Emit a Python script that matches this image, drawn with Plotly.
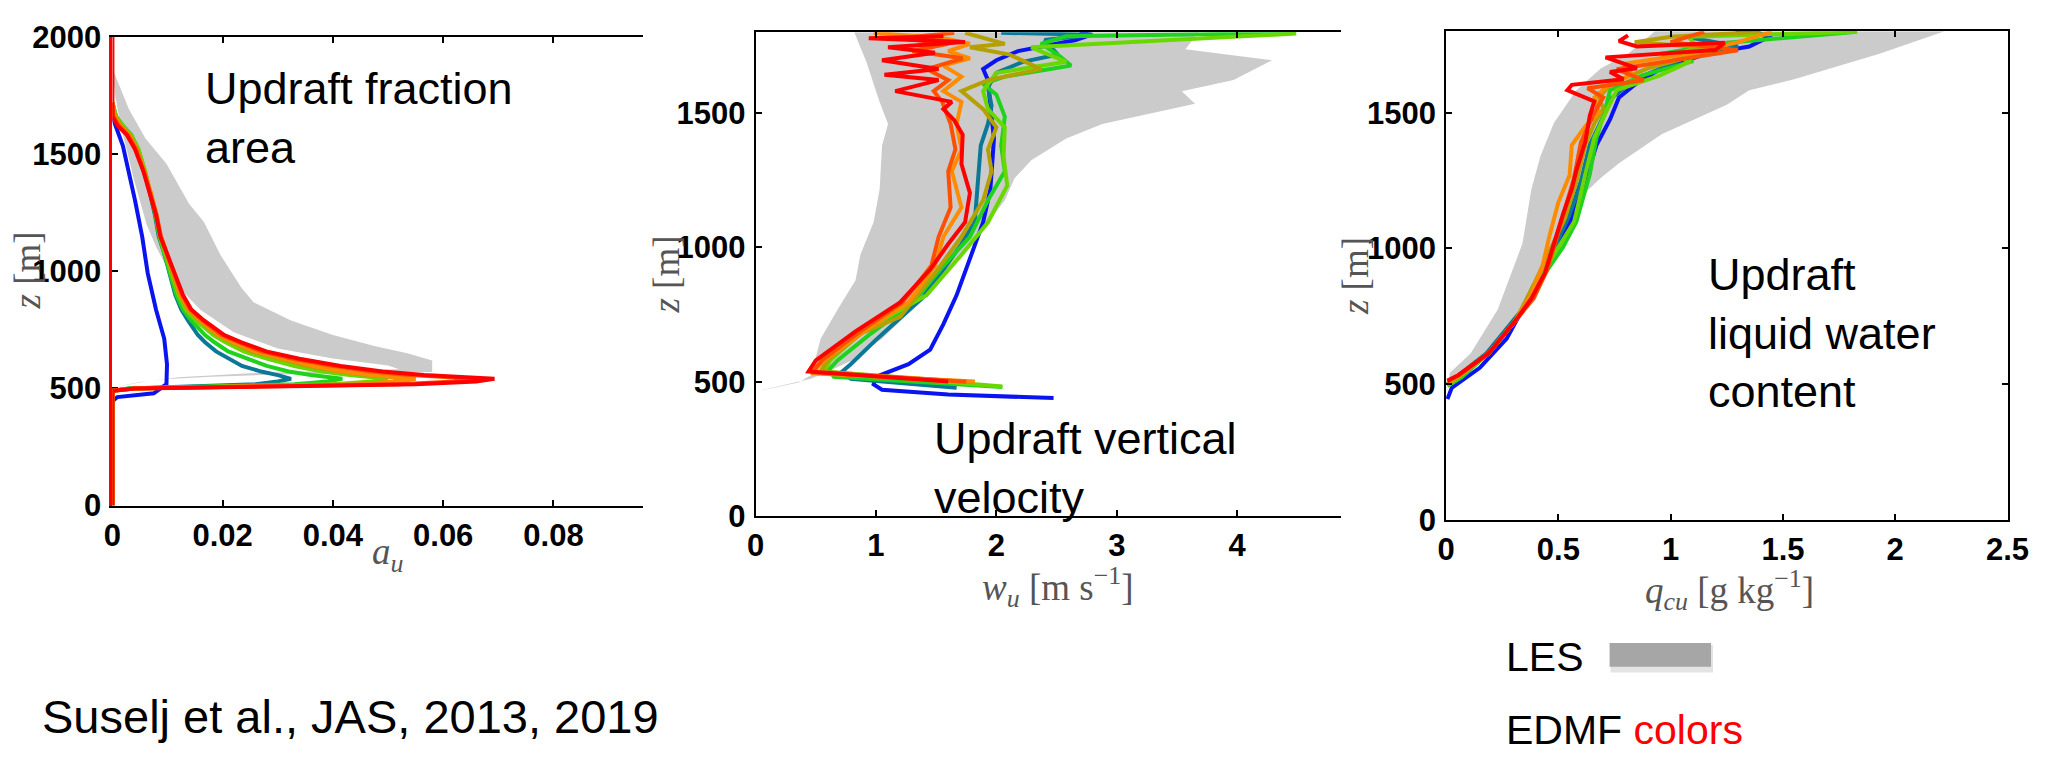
import plotly.graph_objects as go

# ---------------- DATA ----------------
# Panel 1: updraft area fraction a_u vs z
LES1_A = [0.0, 0.003, 0.006, 0.0098, 0.0128, 0.0139, 0.0166, 0.0196, 0.0234, 0.0256, 0.0324, 0.040, 0.0475, 0.0535, 0.058, 0.058,
          0.045, 0.03, 0.018, 0.01, 0.005, 0.002, 0.0,
          0.002, 0.006, 0.012, 0.025, 0.04, 0.052,
          0.05, 0.04, 0.03, 0.022, 0.016, 0.0125, 0.0105, 0.008, 0.0062, 0.005, 0.0038, 0.0028, 0.0015, 0.0005, 0.0]
LES1_Z = [1866, 1692, 1567, 1459, 1334, 1288, 1210, 1070, 930, 868, 790, 728, 681, 650, 619, 570,
          565, 559, 550, 540, 527, 514, 500,
          512, 530, 548, 565, 573, 582,
          598, 628, 670, 740, 835, 920, 990, 1100, 1200, 1300, 1400, 1500, 1620, 1750, 1866]

Z1_LO = [0, 490, 500, 505, 510, 518, 530]
Z1_UP = [541, 557, 572, 596, 627, 658, 697, 728, 790, 837, 899, 992, 1085, 1148, 1241, 1334, 1428, 1521, 1583, 1622, 1661, 1720]

A1_TEAL_LO = [0, 0, 0.003, 0.010, 0.018, 0.026, 0.030]
A1_TEAL_UP = [0.0324, 0.030, 0.027, 0.0235, 0.021, 0.0188, 0.0168, 0.0155, 0.0137, 0.0125, 0.0114, 0.0104, 0.0093, 0.0084, 0.0077, 0.0068, 0.0058, 0.0046, 0.0033, 0.0018, 0.0006, 0.0]
A1_GREEN_LO = [0, 0, 0.003, 0.011, 0.022, 0.033, 0.039]
A1_GREEN_UP = [0.0417, 0.036, 0.032, 0.028, 0.0243, 0.021, 0.0185, 0.0168, 0.0143, 0.0128, 0.0116, 0.0105, 0.0094, 0.0085, 0.0078, 0.0069, 0.0059, 0.0047, 0.0034, 0.0019, 0.0007, 0.0]
A1_LIME_LO = [0, 0, 0.004, 0.013, 0.027, 0.040, 0.047]
A1_LIME_UP = [0.050, 0.043, 0.038, 0.033, 0.028, 0.0238, 0.0205, 0.0183, 0.0152, 0.0133, 0.0120, 0.0107, 0.0095, 0.0086, 0.0079, 0.0069, 0.0059, 0.0047, 0.0033, 0.0018, 0.0006, 0.0]
A1_OLIVE_LO = [0, 0, 0.004, 0.014, 0.029, 0.044, 0.051]
A1_OLIVE_UP = [0.054, 0.046, 0.041, 0.0355, 0.030, 0.0252, 0.0215, 0.019, 0.0157, 0.0137, 0.0122, 0.0109, 0.0096, 0.0087, 0.0079, 0.0069, 0.0058, 0.0045, 0.0031, 0.0016, 0.0005, 0.0]
A1_ORANGE_LO = [0, 0, 0.004, 0.014, 0.030, 0.045, 0.052]
A1_ORANGE_UP = [0.055, 0.047, 0.042, 0.0365, 0.031, 0.026, 0.022, 0.0193, 0.016, 0.0139, 0.0124, 0.011, 0.0097, 0.0088, 0.008, 0.007, 0.0058, 0.0044, 0.003, 0.0014, 0.0004, 0.0]
A1_ORED_LO = [0, 0, 0.004, 0.015, 0.033, 0.052, 0.062]
A1_ORED_UP = [0.066, 0.054, 0.047, 0.040, 0.0328, 0.027, 0.0228, 0.0198, 0.0163, 0.0141, 0.0126, 0.0112, 0.0097, 0.0088, 0.0080, 0.0069, 0.0057, 0.0043, 0.0028, 0.0012, 0.0002, 0.0]
A1_RED_LO = [0, 0, 0.004, 0.015, 0.035, 0.055, 0.066]
A1_RED_UP = [0.0693, 0.0565, 0.049, 0.0414, 0.0339, 0.0279, 0.0234, 0.0203, 0.0166, 0.0143, 0.0128, 0.0113, 0.0098, 0.0087, 0.0079, 0.0068, 0.0056, 0.0041, 0.0026, 0.0009, 0.0, 0.0]
A1_RED_TOP = [0.0, 0.0]
Z1_RED_TOP = [1720, 2000]

A1_BLUE = [0, 0, 0.0009, 0.0075, 0.0098, 0.0099, 0.0094, 0.0079, 0.0064, 0.0054, 0.0041, 0.0026, 0.0019, 0.0002, 0]
Z1_BLUE = [0, 445, 463, 479, 518, 603, 712, 837, 992, 1148, 1303, 1459, 1536, 1645, 1660]

# Panel 2: updraft vertical velocity w_u vs z
LES2_W = [0.0, 0.355, 0.46, 0.54, 0.68, 0.83, 0.87, 0.98, 1.03, 1.05, 1.10, 1.03, 0.98, 0.92, 0.87, 0.82,
          3.68, 3.57, 4.29, 3.97, 3.54, 3.65, 2.88, 2.58, 2.29, 2.15, 2.07, 1.93, 1.75, 1.5, 1.3, 1.05, 0.8, 0.57, 0.46, 0.0]
LES2_Z = [463, 497, 524, 660, 768, 877, 972, 1093, 1215, 1378, 1459, 1541, 1608, 1690, 1744, 1800,
          1800, 1737, 1696, 1622, 1581, 1534, 1459, 1405, 1324, 1256, 1175, 1093, 985, 877, 768, 660, 579, 531, 511, 463]

W2_BLUE = [2.475, 1.6, 1.05, 0.98, 1.0, 1.27, 1.45, 1.56, 1.67, 1.76, 1.82, 1.89, 1.95, 1.98, 1.95, 1.93, 1.89, 2.0, 2.18, 2.66, 2.79, 2.69]
Z2_BLUE = [439, 452, 470, 490, 518, 565, 619, 714, 822, 931, 1012, 1093, 1215, 1405, 1527, 1622, 1663, 1696, 1730, 1771, 1791, 1798]
W2_TEAL = [1.67, 0.79, 0.72, 0.79, 1.01, 1.38, 1.56, 1.71, 1.82, 1.85, 1.87, 1.93, 1.96, 1.93, 2.0, 2.22, 2.51, 2.40, 2.8, 2.04]
Z2_TEAL = [477, 511, 538, 565, 660, 809, 917, 1012, 1093, 1242, 1378, 1459, 1527, 1595, 1649, 1690, 1717, 1771, 1791, 1798]
W2_GREEN = [2.05, 0.65, 0.61, 0.68, 0.94, 1.31, 1.56, 1.78, 1.93, 2.07, 2.04, 2.07, 2.0, 1.89, 2.07, 2.62, 2.51, 2.37, 2.58, 4.49]
Z2_GREEN = [480, 518, 545, 579, 673, 795, 931, 1039, 1175, 1283, 1378, 1486, 1568, 1608, 1635, 1676, 1717, 1757, 1785, 1798]
W2_LIME = [2.05, 0.57, 0.62, 0.9, 1.42, 1.71, 1.93, 2.09, 2.06, 2.07, 1.93, 1.89, 2.0, 2.58, 2.29, 4.49]
Z2_LIME = [482, 538, 580, 690, 822, 972, 1093, 1229, 1337, 1446, 1514, 1581, 1649, 1690, 1744, 1795]
W2_OLIVE = [1.82, 0.54, 0.6, 0.88, 1.2, 1.49, 1.71, 1.89, 1.96, 1.93, 2.0, 1.89, 1.71, 1.93, 2.37, 2.11, 1.78, 2.07, 1.74]
Z2_OLIVE = [497, 538, 580, 680, 741, 904, 1039, 1175, 1283, 1364, 1446, 1514, 1581, 1622, 1663, 1717, 1744, 1757, 1798]
W2_ORANGE = [1.82, 0.46, 0.57, 0.9, 1.27, 1.49, 1.56, 1.71, 1.63, 1.71, 1.67, 1.71, 1.56, 1.71, 1.56, 1.78, 1.6, 1.78, 1.56, 0.98]
Z2_ORANGE = [501, 531, 579, 687, 795, 931, 1039, 1148, 1283, 1364, 1459, 1541, 1581, 1635, 1676, 1703, 1730, 1757, 1778, 1798]
W2_ORED = [1.75, 0.47, 0.55, 0.87, 1.22, 1.46, 1.52, 1.62, 1.6, 1.66, 1.62, 1.55, 1.48, 1.6, 1.42, 1.72, 1.3, 1.6, 1.2, 1.65]
Z2_ORED = [500, 535, 579, 687, 795, 931, 1039, 1148, 1283, 1364, 1459, 1541, 1581, 1622, 1663, 1703, 1730, 1757, 1778, 1798]
W2_RED = [1.6, 0.44, 0.5, 0.83, 1.2, 1.45, 1.6, 1.74, 1.78, 1.71, 1.72, 1.65, 1.56, 1.63, 1.16, 1.52, 1.07, 1.52, 1.05, 1.49, 1.1, 1.74, 0.94, 1.56]
Z2_RED = [501, 538, 579, 687, 795, 917, 1012, 1093, 1202, 1310, 1419, 1473, 1514, 1541, 1581, 1622, 1642, 1663, 1696, 1724, 1744, 1764, 1778, 1785]

# Panel 3: updraft liquid water q_cu vs z
LES3_Q = [0.015, 0.11, 0.23, 0.34, 0.38, 0.42, 0.48, 0.58, 0.69, 0.81, 0.93,
          2.22, 1.93, 1.55, 1.35, 1.25, 0.96, 0.77, 0.69, 0.62, 0.54, 0.46, 0.36, 0.25, 0.13, 0.015]
LES3_Z = [540, 614, 775, 1018, 1219, 1340, 1462, 1583, 1664, 1717, 1800,
          1800, 1717, 1623, 1583, 1529, 1421, 1314, 1260, 1206, 1098, 937, 802, 668, 587, 520]

Q3_BLUE = [0.006, 0.025, 0.15, 0.27, 0.34, 0.42, 0.5, 0.56, 0.62, 0.67, 0.73, 0.77, 0.85, 0.96, 1.16, 1.35, 1.45, 1.29]
Z3_BLUE = [445, 486, 560, 668, 775, 883, 1004, 1112, 1246, 1381, 1475, 1556, 1610, 1664, 1717, 1744, 1785, 1798]
Q3_TEAL = [0.006, 0.05, 0.18, 0.3, 0.38, 0.44, 0.49, 0.55, 0.6, 0.64, 0.7, 0.74, 0.84, 1.0, 1.06, 1.3, 1.08, 1.4]
Z3_TEAL = [500, 530, 614, 735, 816, 910, 1017, 1125, 1246, 1381, 1489, 1556, 1623, 1677, 1704, 1744, 1778, 1798]
Q3_GREEN = [0.006, 0.07, 0.19, 0.31, 0.42, 0.52, 0.58, 0.64, 0.67, 0.71, 0.73, 0.87, 1.1, 0.96, 1.25, 1.83]
Z3_GREEN = [493, 526, 614, 735, 883, 1004, 1098, 1273, 1408, 1516, 1583, 1637, 1690, 1717, 1758, 1798]
Q3_LIME = [0.006, 0.06, 0.19, 0.31, 0.41, 0.5, 0.57, 0.62, 0.66, 0.72, 0.76, 0.95, 1.09, 1.0, 1.12, 1.08, 1.83]
Z3_LIME = [495, 528, 614, 735, 883, 1004, 1098, 1273, 1408, 1516, 1583, 1637, 1690, 1710, 1740, 1780, 1798]
Q3_OLIVE = [0.006, 0.06, 0.19, 0.31, 0.4, 0.47, 0.53, 0.58, 0.62, 0.66, 0.7, 0.68, 0.74, 0.9, 1.22, 0.84, 1.0, 1.4]
Z3_OLIVE = [500, 530, 614, 735, 883, 1004, 1112, 1246, 1381, 1460, 1516, 1556, 1610, 1664, 1737, 1760, 1780, 1798]
Q3_ORANGE = [0.006, 0.06, 0.19, 0.31, 0.38, 0.43, 0.46, 0.5, 0.55, 0.56, 0.62, 0.68, 0.66, 0.72, 0.83, 0.79, 1.1, 1.3, 1.45]
Z3_ORANGE = [505, 532, 614, 735, 830, 937, 1045, 1170, 1270, 1381, 1450, 1500, 1556, 1600, 1640, 1680, 1720, 1760, 1798]
Q3_ORED = [0.006, 0.055, 0.19, 0.31, 0.39, 0.45, 0.49, 0.53, 0.57, 0.6, 0.66, 0.7, 0.63, 0.88, 0.76, 1.3, 1.0, 1.15]
Z3_ORED = [510, 533, 614, 735, 816, 920, 1030, 1140, 1260, 1390, 1500, 1556, 1590, 1620, 1660, 1730, 1760, 1798]
Q3_RED = [0.006, 0.054, 0.19, 0.31, 0.38, 0.44, 0.48, 0.52, 0.56, 0.58, 0.62, 0.64, 0.66, 0.54, 0.56, 0.79, 0.73, 0.85, 0.71, 1.2, 1.24, 0.85, 0.77, 0.81]
Z3_RED = [513, 533, 614, 735, 816, 910, 1017, 1125, 1219, 1287, 1394, 1489, 1542, 1583, 1603, 1623, 1650, 1664, 1704, 1731, 1758, 1744, 1764, 1785]

# tick labels
X1_TICKS = [0, 0.02, 0.04, 0.06, 0.08]
X1_LABELS = ["0", "0.02", "0.04", "0.06", "0.08"]
Y1_TICKS = [0, 500, 1000, 1500, 2000]
X2_TICKS = [0, 1, 2, 3, 4]
Y23_TICKS = [0, 500, 1000, 1500]
X3_TICKS = [0, 0.5, 1, 1.5, 2, 2.5]
X3_LABELS = ["0", "0.5", "1", "1.5", "2", "2.5"]

# ---------------- STYLE ----------------
W, H = 2063, 764
GRAY = "#cbcbcb"
C = {"blue": "#0a14f0", "teal": "#0a7896", "green": "#1ed21e", "lime": "#6ad800",
     "olive": "#b4a000", "orange": "#ff8c00", "ored": "#ff5000", "red": "#ff0000"}


def fx(p):
    return p / W


def fy(p):
    return 1 - p / H


fig = go.Figure()


def line(x, y, color, ax, width=4):
    fig.add_trace(go.Scatter(x=x, y=y, mode="lines", line=dict(color=color, width=width),
                             xaxis="x" + ax, yaxis="y" + ax, hoverinfo="skip"))


def band(x, y, ax):
    fig.add_trace(go.Scatter(x=x, y=y, mode="lines", fill="toself", fillcolor=GRAY,
                             line=dict(width=0, color=GRAY), xaxis="x" + ax, yaxis="y" + ax,
                             hoverinfo="skip"))


# panel 1
band(LES1_A, LES1_Z, "")
line(A1_BLUE, Z1_BLUE, C["blue"], "")
for lo, up, col in [(A1_TEAL_LO, A1_TEAL_UP, "teal"), (A1_GREEN_LO, A1_GREEN_UP, "green"),
                    (A1_LIME_LO, A1_LIME_UP, "lime"), (A1_OLIVE_LO, A1_OLIVE_UP, "olive"),
                    (A1_ORANGE_LO, A1_ORANGE_UP, "orange"), (A1_ORED_LO, A1_ORED_UP, "ored"),
                    (A1_RED_LO, A1_RED_UP, "red")]:
    line(lo + up, Z1_LO + Z1_UP, C[col], "")
line(A1_RED_TOP, Z1_RED_TOP, C["red"], "")

# panel 2
band(LES2_W, LES2_Z, "2")
for xs, zs, col in [(W2_BLUE, Z2_BLUE, "blue"), (W2_TEAL, Z2_TEAL, "teal"), (W2_GREEN, Z2_GREEN, "green"),
                    (W2_LIME, Z2_LIME, "lime"), (W2_OLIVE, Z2_OLIVE, "olive"), (W2_ORANGE, Z2_ORANGE, "orange"),
                    (W2_ORED, Z2_ORED, "ored"), (W2_RED, Z2_RED, "red")]:
    line(xs, zs, C[col], "2")

# panel 3
band(LES3_Q, LES3_Z, "3")
for xs, zs, col in [(Q3_BLUE, Z3_BLUE, "blue"), (Q3_TEAL, Z3_TEAL, "teal"), (Q3_GREEN, Z3_GREEN, "green"),
                    (Q3_LIME, Z3_LIME, "lime"), (Q3_OLIVE, Z3_OLIVE, "olive"), (Q3_ORANGE, Z3_ORANGE, "orange"),
                    (Q3_ORED, Z3_ORED, "ored"), (Q3_RED, Z3_RED, "red")]:
    line(xs, zs, C[col], "3")

TICKFONT = dict(family="Liberation Sans, Arial", size=31, color="black", weight="bold")
base = dict(showline=True, linecolor="black", linewidth=2, ticks="inside", ticklen=6, tickwidth=1.5,
            tickcolor="black", showgrid=False, zeroline=False, tickfont=TICKFONT, fixedrange=True)

fig.update_layout(
    width=W, height=H, margin=dict(l=0, r=0, t=0, b=0), showlegend=False,
    paper_bgcolor="white", plot_bgcolor="white",
    xaxis=dict(base, domain=[fx(105), fx(644)], range=[0, 0.0963], tickvals=X1_TICKS, ticktext=X1_LABELS,
               mirror="ticks", anchor="y", ticklabelstandoff=1),
    yaxis=dict(base, domain=[fy(512), fy(21)], range=[0, 2000], tickvals=Y1_TICKS, anchor="x",
               linecolor="#ff0000", linewidth=3, layer="below traces", ticklabelstandoff=2),
    xaxis2=dict(base, domain=[fx(758), fx(1352)], range=[0, 4.86], tickvals=X2_TICKS,
                mirror="ticks", anchor="y2", ticklabelstandoff=1),
    yaxis2=dict(base, domain=[fy(523), fy(16)], range=[0, 1800], tickvals=Y23_TICKS, anchor="x2",
                ticklabelstandoff=2),
    xaxis3=dict(base, domain=[fx(1459), fx(2029)], range=[0, 2.5], tickvals=X3_TICKS, ticktext=X3_LABELS,
                mirror="ticks", anchor="y3", ticklabelstandoff=1),
    yaxis3=dict(base, domain=[fy(527), fy(15)], range=[0, 1800], tickvals=Y23_TICKS, anchor="x3",
                mirror="ticks", ticklabelstandoff=2),
)

MATH = dict(family="Liberation Serif, DejaVu Serif, serif", size=37, color="#555555")
TXT = dict(family="Liberation Sans, Arial", size=45, color="black")


def ann(text, x, y, font, xanchor="left", yanchor="middle", angle=0):
    fig.add_annotation(text=text, x=fx(x), y=fy(y), xref="paper", yref="paper", showarrow=False,
                       font=font, xanchor=xanchor, yanchor=yanchor, textangle=angle, align="left")


# axis titles
ann("<i>a<sub>u</sub></i>", 385, 563, MATH, xanchor="center")
ann("<i>w<sub>u</sub></i> [m s<sup>−1</sup>]", 1065, 597, MATH, xanchor="center")
ann("<i>q<sub>cu</sub></i> [g kg<sup>−1</sup>]", 1747, 601, MATH, xanchor="center")
ann("<i>z</i> [m]", 19, 266, MATH, xanchor="center", angle=-90)
ann("<i>z</i> [m]", 668, 270, MATH, xanchor="center", angle=-90)
ann("<i>z</i> [m]", 1367, 271, MATH, xanchor="center", angle=-90)

# panel labels
ann("Updraft fraction<br>area", 197, 106, TXT)
ann("Updraft vertical<br>velocity", 937, 473, TXT)
ann("Updraft<br>liquid water<br>content", 1723, 331, TXT)

# footer
ann("Suselj et al., JAS, 2013, 2019", 31, 733, dict(family="Liberation Sans, Arial", size=47, color="black"))
ann("LES", 1518, 671, dict(family="Liberation Sans, Arial", size=41, color="black"))
ann("EDMF <span style='color:#ff0000'>colors</span>", 1518, 747,
    dict(family="Liberation Sans, Arial", size=41, color="black"))

fig.add_shape(type="rect", xref="paper", yref="paper", x0=fx(1626), x1=fx(1730), y0=fy(687), y1=fy(658),
              fillcolor="#e4e4e4", line=dict(width=0), layer="above")
fig.add_shape(type="rect", xref="paper", yref="paper", x0=fx(1625), x1=fx(1728), y0=fy(681), y1=fy(656),
              fillcolor="#a6a6a6", line=dict(width=0), layer="above")

fig.write_html("out.html")
